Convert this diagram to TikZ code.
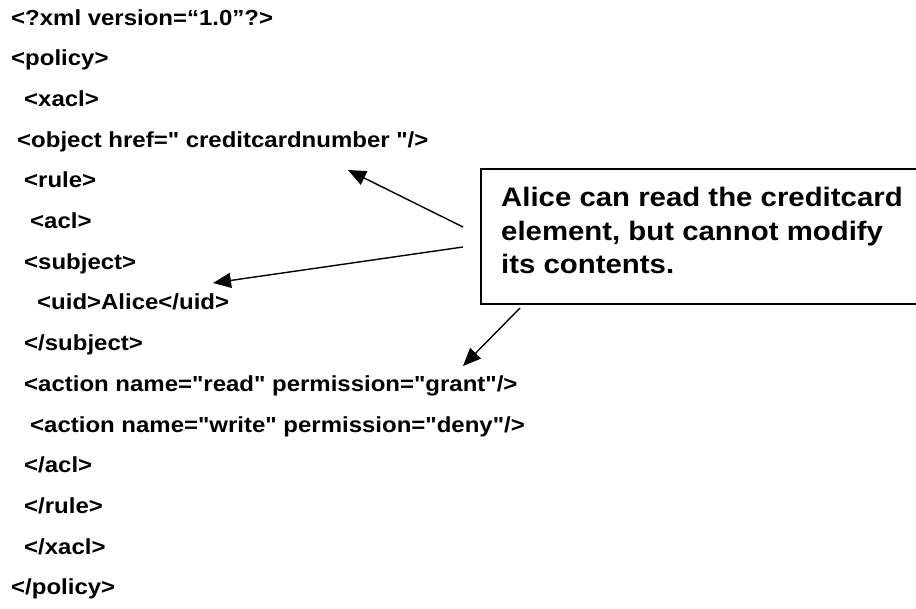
\documentclass[tikz,border=0pt]{standalone}
\usepackage{fontspec}
\newfontfamily\codefont{Liberation Sans}[FakeStretch=1.1]
\usetikzlibrary{arrows.meta}
\begin{document}
\begin{tikzpicture}[x=1pt,y=-1pt,
  code/.style={anchor=base west,inner sep=0pt,font=\codefont\bfseries\fontsize{21.8}{25}\selectfont},
  note/.style={anchor=base west,inner sep=0pt,align=left,font=\codefont\bfseries\fontsize{26.7}{33.3}\selectfont},
  pointer/.style={line width=1.4pt,-{Triangle[length=18pt,width=15pt]}}]
\useasboundingbox (0,0) rectangle (916,608);
\node[code] (l1) at (11,25) {<?xml version=“1.0”?>};
\node[code] (l2) at (11,65.7) {<policy>};
\node[code] (l3) at (24,106.4) {<xacl>};
\node[code] (l4) at (17,147.1) {<object href=" creditcardnumber "/>};
\node[code] (l5) at (24,187.8) {<rule>};
\node[code] (l6) at (30,228.5) {<acl>};
\node[code] (l7) at (24,269.2) {<subject>};
\node[code] (l8) at (37,309.9) {<uid>Alice</uid>};
\node[code] (l9) at (24,350.6) {</subject>};
\node[code] (l10) at (24,391.3) {<action name="read" permission="grant"/>};
\node[code] (l11) at (30,432) {<action name="write" permission="deny"/>};
\node[code] (l12) at (24,472.7) {</acl>};
\node[code] (l13) at (24,513.4) {</rule>};
\node[code] (l14) at (24,554.1) {</xacl>};
\node[code] (l15) at (11,594.8) {</policy>};
\draw[line width=1.6pt] (481,169) rectangle (925,304);
\node[note] (note) at (501,273.5) {Alice can read the creditcard\\element, but cannot modify\\its contents.};
\coordinate (s1) at (463,227);
\coordinate (t1) at (348,170);
\coordinate (s2) at (463,247);
\coordinate (t2) at (213,283);
\coordinate (s3) at (520,308);
\coordinate (t3) at (463,366);
\draw[pointer] (s1) -- (t1);
\draw[pointer] (s2) -- (t2);
\draw[pointer] (s3) -- (t3);
\end{tikzpicture}
\end{document}
